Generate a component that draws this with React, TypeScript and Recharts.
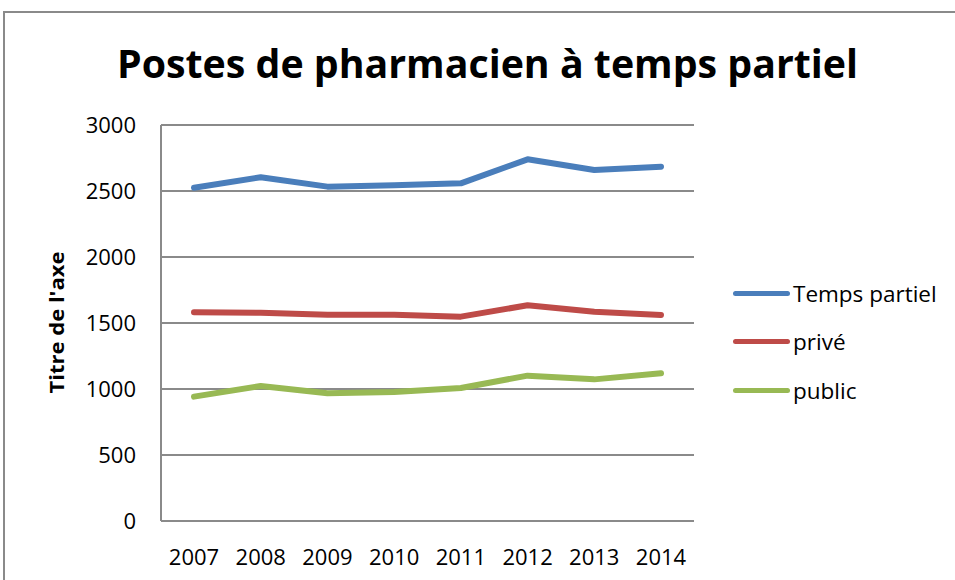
import { LineChart, Line, XAxis, YAxis, CartesianGrid } from 'recharts';

const years = ['2007', '2008', '2009', '2010', '2011', '2012', '2013', '2014'];
const tempsPartiel = [2525, 2604, 2533, 2543, 2558, 2740, 2659, 2684];
const prive = [1581, 1578, 1563, 1562, 1548, 1634, 1586, 1561];
const publicPostes = [942, 1023, 967, 977, 1008, 1101, 1073, 1119];
const yTicks = [0, 500, 1000, 1500, 2000, 2500, 3000];

const series = [
  { key: 'temps', name: 'Temps partiel', color: '#4A7EBB', values: tempsPartiel },
  { key: 'prive', name: 'privé', color: '#BE4B48', values: prive },
  { key: 'public', name: 'public', color: '#98B954', values: publicPostes },
];

const data = years.map((year, i) => ({
  year,
  temps: tempsPartiel[i],
  prive: prive[i],
  public: publicPostes[i],
}));

const GRID = '#8a8a8a';
const FONT = '"Open Sans", sans-serif';

export default function App() {
  return (
    <div
      style={{
        position: 'absolute',
        left: 0,
        top: 0,
        width: 955,
        height: 580,
        overflow: 'hidden',
        background: '#fff',
        fontFamily: FONT,
      }}
    >
      {/* chart frame, runs off the right and bottom edges */}
      <div
        style={{
          position: 'absolute',
          left: 3,
          top: 11,
          width: 1000,
          height: 1000,
          border: `2px solid ${GRID}`,
          boxSizing: 'border-box',
        }}
      />

      <svg width={955} height={580} style={{ position: 'absolute', left: 0, top: 0 }}>
        <text
          x={117}
          y={78}
          fontFamily={FONT}
          fontWeight={700}
          fontSize={40}
          fill="#000"
          textLength={741}
          lengthAdjust="spacingAndGlyphs"
        >
          Postes de pharmacien à temps partiel
        </text>
        <text
          transform="translate(64,322.5) rotate(-90)"
          textAnchor="middle"
          fontFamily={FONT}
          fontWeight={700}
          fontSize={20}
          fill="#000"
          textLength={142}
          lengthAdjust="spacingAndGlyphs"
        >
          Titre de l'axe
        </text>
      </svg>

      <div style={{ position: 'absolute', left: 0, top: 0 }}>
        <LineChart
          width={955}
          height={580}
          data={data}
          margin={{ top: 125, right: 261, bottom: 19, left: 61 }}
        >
          <CartesianGrid vertical={false} stroke={GRID} strokeWidth={2} />
          <XAxis
            dataKey="year"
            height={40}
            padding={{ left: 33, right: 33 }}
            axisLine={{ stroke: GRID, strokeWidth: 2 }}
            tickLine={false}
            tickSize={6}
            tickMargin={22}
            interval={0}
            tick={{ fill: '#000', fontSize: 22, fontFamily: FONT }}
          />
          <YAxis
            width={100}
            domain={[0, 3000]}
            ticks={yTicks}
            interval={0}
            axisLine={{ stroke: GRID, strokeWidth: 2 }}
            tickLine={false}
            tickSize={6}
            tickMargin={19}
            tick={{ fill: '#000', fontSize: 22, fontFamily: FONT }}
          />
          {series.map((s) => (
            <Line
              key={s.key}
              dataKey={s.key}
              name={s.name}
              stroke={s.color}
              strokeWidth={6}
              strokeLinecap="round"
              strokeLinejoin="round"
              dot={false}
              activeDot={false}
              isAnimationActive={false}
            />
          ))}
        </LineChart>
      </div>

      {/* legend */}
      <div style={{ position: 'absolute', left: 733, top: 269 }}>
        {series.map((s) => (
          <div
            key={s.key}
            style={{ display: 'flex', alignItems: 'center', height: 48.5, fontSize: 22.5, color: '#000' }}
          >
            <div style={{ width: 57, height: 5, borderRadius: 3, background: s.color, marginRight: 3 }} />
            <span>{s.name}</span>
          </div>
        ))}
      </div>
    </div>
  );
}
